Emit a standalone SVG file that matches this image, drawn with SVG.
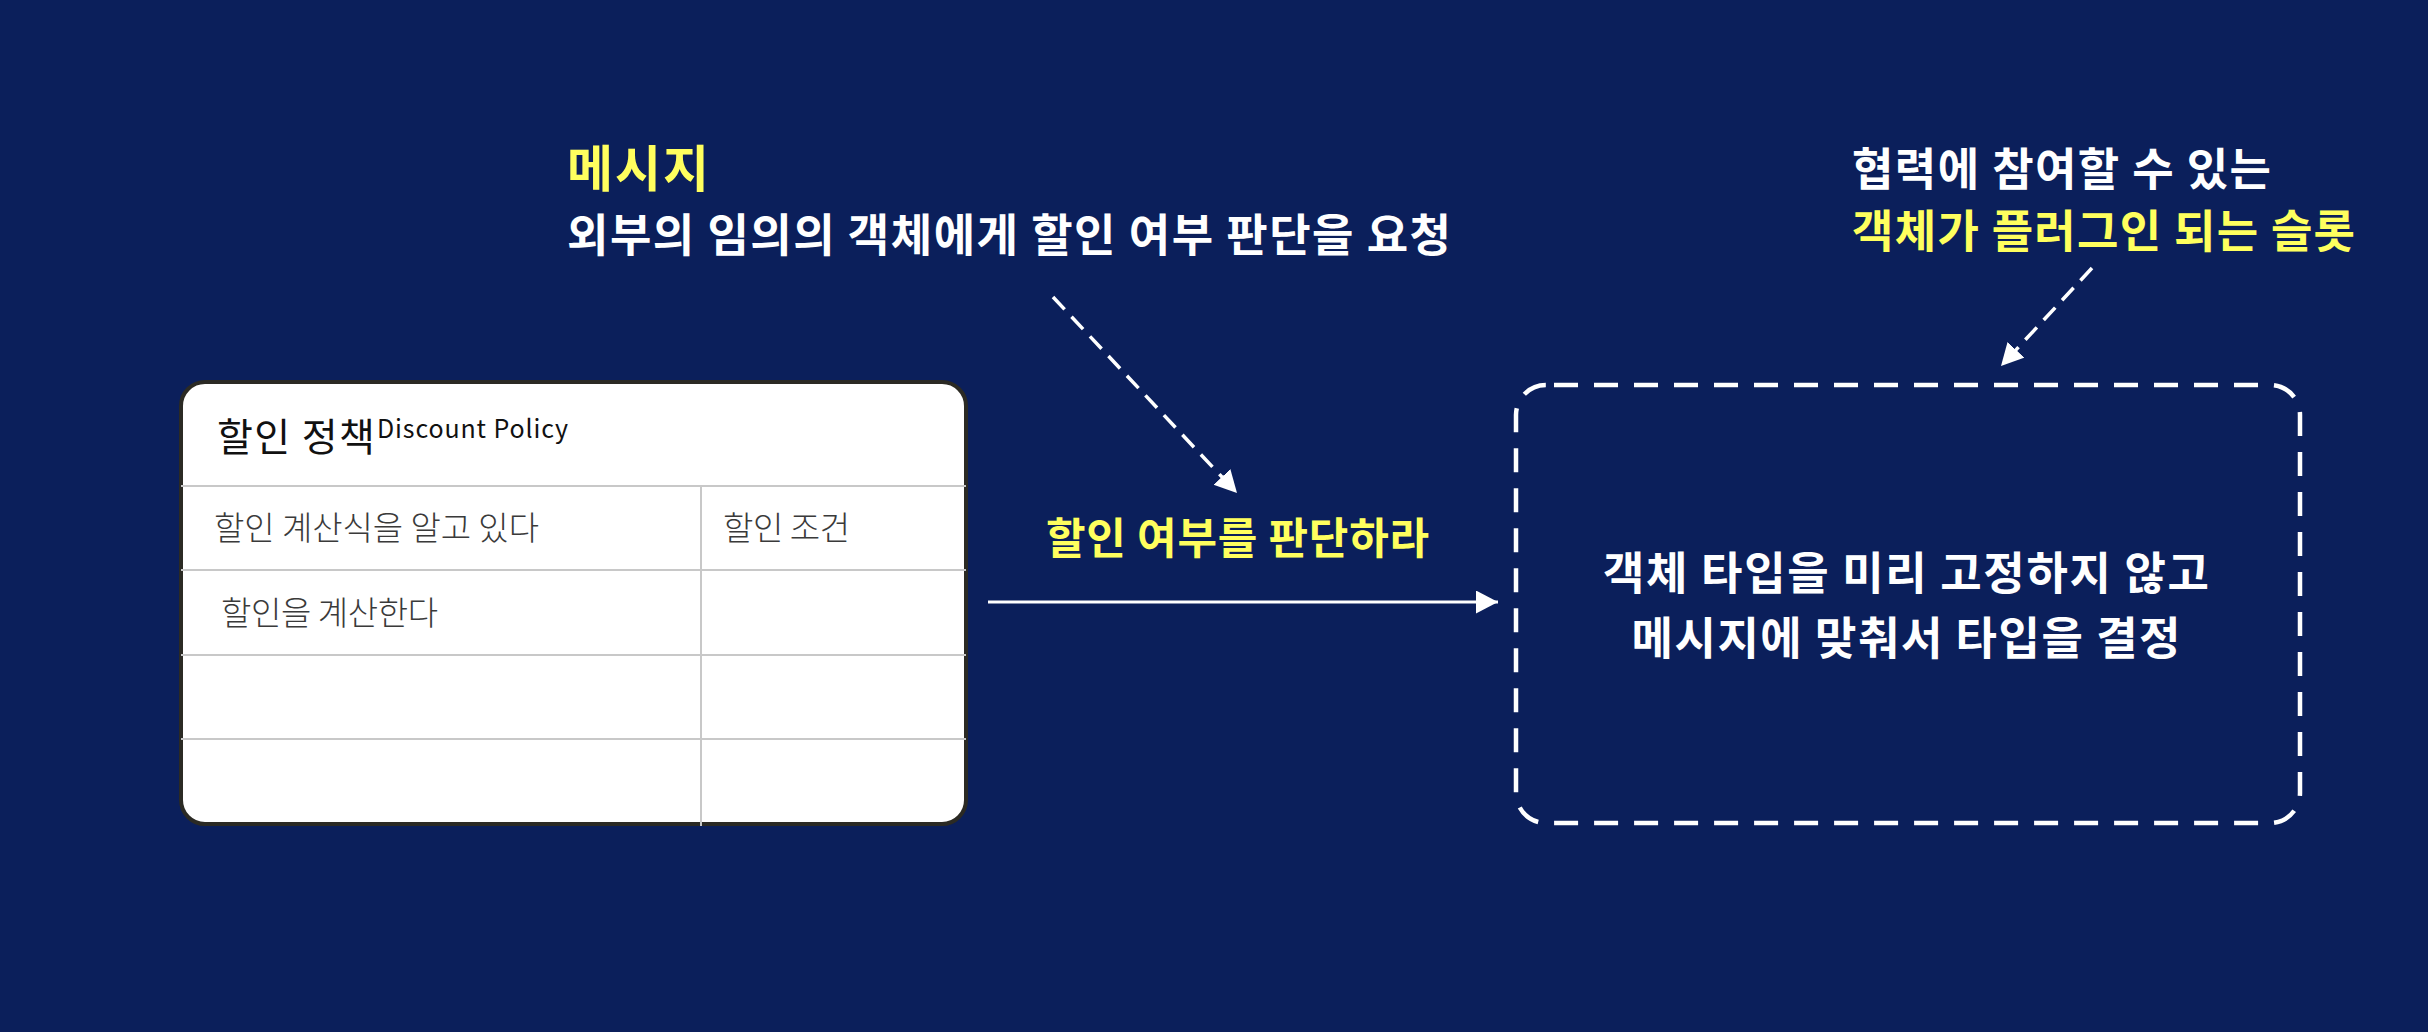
<svg xmlns="http://www.w3.org/2000/svg" width="2428" height="1032" viewBox="0 0 2428 1032">
  <style>
    .kb { font-family: "Noto Sans CJK KR", "Noto Sans", sans-serif; font-weight: 700; }
    .kl { font-family: "Noto Sans CJK KR", "Noto Sans", sans-serif; font-weight: 400; }
    .white { fill: #ffffff; }
    .yellow { fill: #ffff5e; }
    .grid { stroke: #c8c8c8; stroke-width: 2; fill: none; }
    .cell { font-size: 33px; fill: #3a3a3a; font-weight: 300; }
    .conn { stroke: #ffffff; fill: none; }
    .dash { stroke-width: 3.5; stroke-dasharray: 17 10; }
  </style>
  <defs>
    <marker id="ah" markerUnits="userSpaceOnUse" markerWidth="24" markerHeight="24" refX="22" refY="11.5" orient="auto">
      <path d="M0,0 L22,11.5 L0,23 Z" fill="#ffffff"/>
    </marker>
  </defs>
  <rect width="2428" height="1032" fill="#0b1f5b"/>

  <g id="card">
    <rect x="181" y="382" width="785" height="442" rx="24" fill="#ffffff" stroke="#2b2a24" stroke-width="4"/>
    <line class="grid" x1="181" y1="486" x2="966" y2="486"/>
    <line class="grid" x1="181" y1="570" x2="966" y2="570"/>
    <line class="grid" x1="181" y1="655" x2="966" y2="655"/>
    <line class="grid" x1="181" y1="739" x2="966" y2="739"/>
    <line class="grid" x1="701" y1="486" x2="701" y2="826"/>
    <text class="kl" x="217" y="451" font-size="39" fill="#111111" textLength="158">할인 정책</text>
    <text class="kl" x="377" y="438" font-size="25" fill="#111111" textLength="191">Discount Policy</text>
    <text class="kl cell" x="214" y="540" textLength="325">할인 계산식을 알고 있다</text>
    <text class="kl cell" x="723" y="540" textLength="127">할인 조건</text>
    <text class="kl cell" x="221" y="625" textLength="217">할인을 계산한다</text>
  </g>

  <g id="message-note">
    <text class="kb yellow" x="567" y="187" font-size="50" textLength="142">메시지</text>
    <text class="kb white" x="567" y="252" font-size="45" textLength="884">외부의 임의의 객체에게 할인 여부 판단을 요청</text>
  </g>

  <g id="message-label">
    <text class="kb yellow" x="1046" y="554" font-size="43" textLength="383">할인 여부를 판단하라</text>
  </g>

  <g id="slot-note">
    <text class="kb white" x="1852" y="186" font-size="45" textLength="419">협력에 참여할 수 있는</text>
    <text class="kb yellow" x="1852" y="248" font-size="45" textLength="503">객체가 플러그인 되는 슬롯</text>
  </g>

  <g id="slot">
    <rect x="1516" y="385" width="784" height="438" rx="30" fill="none" stroke="#ffffff" stroke-width="4.5" stroke-dasharray="24 16" stroke-dashoffset="-8"/>
    <text class="kb white" x="1906" y="590" font-size="45" text-anchor="middle" textLength="606">객체 타입을 미리 고정하지 않고</text>
    <text class="kb white" x="1906" y="655" font-size="45" text-anchor="middle" textLength="549">메시지에 맞춰서 타입을 결정</text>
  </g>

  <g id="connectors">
    <line class="conn" x1="988" y1="602" x2="1498" y2="602" stroke-width="3" marker-end="url(#ah)"/>
    <line class="conn dash" x1="1053" y1="297" x2="1237" y2="493" marker-end="url(#ah)"/>
    <line class="conn dash" x1="2092" y1="268" x2="2001" y2="366" marker-end="url(#ah)"/>
  </g>
</svg>
